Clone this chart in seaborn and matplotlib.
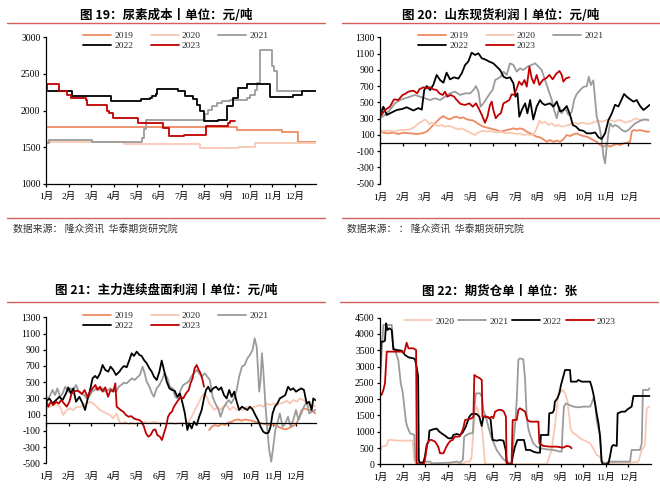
import matplotlib
matplotlib.use("Agg")
import matplotlib.pyplot as plt
import seaborn as sns
from matplotlib.lines import Line2D

# ---------------- data (x = months since 1 Jan, y = value) ----------------
MONTHS = ["1月", "2月", "3月", "4月", "5月", "6月", "7月", "8月", "9月", "10月", "11月", "12月"]
YEARS5 = ["2019", "2020", "2021", "2022", "2023"]
YEARS4 = ["2020", "2021", "2022", "2023"]

TITLES = ["图 19：尿素成本丨单位：元/吨", "图 20：山东现货利润丨单位：元/吨",
          "图 21：主力连续盘面利润丨单位：元/吨", "图 22：期货仓单丨单位：张"]
SOURCES = ["数据来源： 隆众资讯  华泰期货研究院", "数据来源： ： 隆众资讯  华泰期货研究院"]

# Panel 1: urea cost (step series)
P1_2019 = [(0, 1780), (8.42, 1730), (10.42, 1710), (11.12, 1570), (11.93, 1570)]
P1_2020 = [(0, 1565), (3.43, 1540), (6.45, 1548), (6.6, 1540), (6.8, 1490), (8.48, 1500), (9.23, 1550), (11.93, 1550)]
P1_2021 = [(0, 1558), (0.13, 1593), (2.05, 1576), (4.25, 1620), (4.32, 1750), (4.4, 1875), (7.02, 1957),
           (7.17, 2011), (7.32, 2056), (7.54, 2101), (7.76, 2124), (8.13, 2150), (8.86, 2170), (9.01, 2215),
           (9.23, 2283), (9.33, 2380), (9.45, 2827), (9.97, 2610), (10.07, 2540), (10.19, 2260), (11.3, 2260)]
P1_2022 = [(0, 2260), (1.16, 2200), (2.86, 2133), (4.19, 2155), (4.6, 2175), (4.7, 2200), (4.85, 2230),
           (4.92, 2290), (5.85, 2270), (6.14, 2200), (6.5, 2156), (6.68, 2080), (6.79, 1990), (6.98, 1850),
           (7.61, 1875), (7.98, 2056), (8.27, 2170), (8.49, 2306), (8.86, 2365), (9.89, 2184), (10.92, 2215),
           (11.29, 2260), (11.93, 2260)]
P1_2023 = [(0, 2260), (0.03, 2365), (0.57, 2260), (0.94, 2215), (1.09, 2165), (1.75, 2145), (1.83, 2080),
           (2.68, 2000), (2.78, 1965), (2.97, 1900), (4.05, 1830), (5.15, 1760), (5.43, 1648), (6.1, 1668),
           (7.05, 1785), (8.05, 1830), (8.13, 1850), (8.35, 1850)]

# Panel 2: Shandong spot profit
P2_2019 = [(0.00, 160), (0.15, 127), (0.37, 119), (0.59, 127), (0.81, 111), (1.03, 127), (1.33, 119), (1.62, 111),
           (1.85, 119), (2.07, 140), (2.22, 181), (2.36, 222), (2.51, 263), (2.66, 304), (2.81, 332), (2.95, 304),
           (3.10, 291), (3.25, 316), (3.40, 324), (3.55, 304), (3.69, 316), (3.84, 291), (3.99, 283), (4.14, 275),
           (4.28, 250), (4.43, 222), (4.58, 201), (4.73, 189), (4.87, 181), (5.02, 168), (5.17, 160), (5.32, 140),
           (5.47, 148), (5.61, 160), (5.76, 168), (5.91, 181), (6.06, 168), (6.20, 181), (6.35, 168), (6.50, 140),
           (6.65, 119), (6.79, 99), (6.94, 78), (7.09, 70), (7.24, 45), (7.39, 16), (7.53, 37), (7.68, 16),
           (7.83, 29), (7.98, 16), (8.12, 45), (8.27, 99), (8.42, 86), (8.57, 107), (8.71, 119), (8.86, 99),
           (9.01, 86), (9.16, 78), (9.31, 58), (9.45, 37), (9.60, 16), (9.75, -25), (9.90, -45), (10.04, -25),
           (10.19, -45), (10.34, -25), (10.49, -12), (10.64, -25), (10.78, -4), (10.93, 4), (11.08, 16),
           (11.15, 140), (11.23, 160), (11.37, 152), (11.52, 160), (11.67, 148), (11.82, 140), (11.94, 140)]
P2_2020 = [(0.00, 140), (0.22, 152), (0.44, 152), (0.66, 140), (0.89, 160), (1.11, 160), (1.33, 168), (1.55, 201),
           (1.70, 242), (1.85, 263), (1.99, 291), (2.10, 263), (2.19, 234), (2.29, 250), (2.44, 222), (2.58, 209),
           (2.73, 222), (2.88, 201), (3.03, 209), (3.18, 201), (3.32, 181), (3.47, 168), (3.62, 181), (3.77, 160),
           (3.91, 140), (4.06, 119), (4.21, 99), (4.28, 119), (4.43, 140), (4.58, 152), (4.73, 140), (4.87, 148),
           (5.02, 140), (5.17, 127), (5.32, 140), (5.47, 127), (5.61, 119), (5.76, 127), (5.91, 119), (6.06, 111),
           (6.20, 119), (6.35, 99), (6.50, 107), (6.65, 99), (6.79, 99), (6.94, 181), (7.06, 275), (7.16, 242),
           (7.31, 263), (7.46, 222), (7.61, 242), (7.75, 209), (7.90, 222), (8.05, 201), (8.20, 209), (8.35, 222),
           (8.49, 242), (8.64, 250), (8.79, 234), (8.94, 250), (9.08, 242), (9.23, 234), (9.38, 242), (9.53, 263),
           (9.68, 275), (9.82, 263), (9.97, 275), (10.12, 291), (10.27, 275), (10.41, 263), (10.56, 283),
           (10.71, 275), (10.86, 250), (11.00, 263), (11.15, 275), (11.30, 304), (11.45, 291), (11.60, 275),
           (11.74, 291), (11.89, 275)]
P2_2021 = [(0.00, 304), (0.22, 345), (0.44, 406), (0.66, 488), (0.89, 529), (1.11, 550), (1.33, 570), (1.55, 591),
           (1.77, 570), (1.99, 550), (2.22, 529), (2.44, 550), (2.66, 529), (2.88, 570), (3.10, 611), (3.32, 632),
           (3.55, 591), (3.77, 611), (3.99, 611), (4.14, 652), (4.25, 701), (4.36, 632), (4.46, 447), (4.58, 488),
           (4.73, 550), (4.87, 611), (4.99, 652), (5.10, 775), (5.24, 796), (5.35, 816), (5.47, 878), (5.61, 837),
           (5.76, 980), (5.91, 960), (6.06, 878), (6.20, 919), (6.35, 898), (6.53, 939), (6.72, 960), (6.87, 980),
           (7.02, 939), (7.16, 898), (7.31, 775), (7.46, 652), (7.61, 529), (7.71, 406), (7.83, 304), (7.95, 447),
           (8.05, 365), (8.20, 427), (8.35, 345), (8.49, 380), (8.60, 529), (8.71, 600), (8.86, 650), (9.01, 690),
           (9.16, 700), (9.25, 816), (9.34, 714), (9.45, 770), (9.53, 529), (9.60, 324), (9.72, 201), (9.82, 37),
           (9.90, -168), (9.97, -250), (10.04, -45), (10.12, 119), (10.19, 242), (10.31, 201), (10.41, 222),
           (10.56, 201), (10.71, 160), (10.86, 140), (11.00, 160), (11.15, 201), (11.30, 242), (11.45, 263),
           (11.60, 283), (11.74, 291), (11.89, 283)]
P2_2022 = [(0.00, 324), (0.15, 447), (0.30, 345), (0.44, 365), (0.74, 406), (1.00, 420), (1.18, 440), (1.48, 400),
           (1.70, 430), (1.85, 410), (1.96, 652), (2.07, 701), (2.22, 652), (2.36, 714), (2.51, 837), (2.66, 775),
           (2.81, 742), (2.95, 865), (3.10, 783), (3.28, 808), (3.47, 792), (3.62, 857), (3.77, 960), (3.91, 1001),
           (4.06, 1111), (4.21, 1083), (4.36, 1103), (4.51, 1042), (4.65, 1029), (4.84, 1001), (5.02, 980),
           (5.17, 939), (5.32, 898), (5.47, 816), (5.61, 796), (5.76, 808), (5.91, 734), (6.00, 570), (6.09, 611),
           (6.17, 324), (6.28, 406), (6.43, 488), (6.53, 365), (6.65, 529), (6.79, 290), (6.94, 447), (7.09, 529),
           (7.19, 488), (7.31, 468), (7.53, 488), (7.68, 447), (7.83, 509), (7.98, 386), (8.12, 406), (8.27, 455),
           (8.42, 345), (8.54, 222), (8.69, 200), (8.83, 160), (9.01, 150), (9.16, 119), (9.34, 119), (9.53, 130),
           (9.68, 70), (9.82, 50), (9.97, 120), (10.12, 283), (10.27, 365), (10.41, 470), (10.56, 450), (10.71, 540),
           (10.81, 603), (10.93, 570), (11.08, 537), (11.23, 509), (11.37, 529), (11.52, 455), (11.67, 406),
           (11.82, 439), (11.94, 468)]
P2_2023 = [(0.00, 455), (0.07, 345), (0.22, 406), (0.44, 447), (0.62, 537), (0.81, 529), (1.00, 591), (1.11, 603),
           (1.26, 632), (1.48, 644), (1.65, 611), (1.74, 660), (1.92, 685), (2.07, 673), (2.22, 685), (2.36, 660),
           (2.51, 652), (2.63, 611), (2.78, 591), (2.88, 632), (2.98, 570), (3.13, 591), (3.28, 570), (3.40, 529),
           (3.57, 480), (3.77, 468), (3.96, 488), (4.11, 447), (4.25, 488), (4.37, 427), (4.51, 345), (4.65, 250),
           (4.76, 324), (4.87, 468), (4.95, 509), (5.02, 406), (5.13, 304), (5.24, 345), (5.35, 365), (5.47, 488),
           (5.61, 509), (5.73, 529), (5.83, 599), (5.94, 591), (6.06, 673), (6.16, 755), (6.28, 714), (6.40, 775),
           (6.50, 693), (6.62, 939), (6.72, 796), (6.82, 734), (6.94, 837), (7.06, 714), (7.21, 775), (7.36, 796),
           (7.50, 837), (7.65, 783), (7.80, 849), (7.95, 886), (8.05, 837), (8.12, 755), (8.24, 796), (8.39, 808)]

# Panel 3: main continuous futures profit
P3_2019 = [(7.18, -90), (7.29, -49), (7.43, -29), (7.58, -41), (7.73, -16), (7.87, -29), (8.02, 0), (8.17, 12),
           (8.31, 33), (8.46, 41), (8.60, 25), (8.75, 41), (8.90, 33), (9.05, 25), (9.19, 12), (9.34, 0),
           (9.49, -8), (9.63, -16), (9.78, -29), (9.93, -8), (10.07, -29), (10.22, -49), (10.37, -70),
           (10.51, -82), (10.66, -70), (10.81, -49), (10.95, -29), (11.06, 12), (11.14, 74), (11.25, 157),
           (11.35, 177), (11.47, 165), (11.61, 157), (11.76, 136), (11.85, 115)]
P3_2020 = [(0.00, 177), (0.18, 198), (0.32, 218), (0.47, 238), (0.62, 198), (0.76, 95), (0.91, 157), (1.06, 177),
           (1.20, 157), (1.35, 198), (1.50, 190), (1.64, 218), (1.79, 238), (1.94, 259), (2.08, 238), (2.23, 198),
           (2.38, 157), (2.52, 136), (2.67, 115), (2.82, 95), (2.96, 53), (3.11, 115), (3.23, 12), (3.34, -8),
           (3.48, 12), (3.62, -16), (3.77, 0), (3.91, -16), (4.06, 0), (4.21, -8), (4.35, 12), (4.50, -8),
           (4.65, 4), (4.79, 12), (4.94, -8), (5.09, 0), (5.23, -16), (5.38, -8), (5.53, 0), (5.67, -16),
           (5.82, -8), (5.97, 0), (6.11, -8), (6.26, 8), (6.41, 74), (6.55, 157), (6.70, 238), (6.85, 320),
           (6.95, 362), (7.07, 320), (7.18, 238), (7.30, 198), (7.42, 157), (7.54, 198), (7.65, 157), (7.80, 198),
           (7.95, 218), (8.09, 157), (8.24, 198), (8.39, 157), (8.53, 177), (8.68, 157), (8.83, 198), (8.97, 177),
           (9.12, 190), (9.27, 206), (9.41, 218), (9.56, 198), (9.71, 238), (9.85, 218), (10.00, 238), (10.15, 218),
           (10.29, 238), (10.44, 246), (10.59, 271), (10.73, 238), (10.88, 279), (11.03, 259), (11.17, 300),
           (11.32, 279), (11.47, 259), (11.61, 198), (11.76, 218), (11.85, 198)]
P3_2021 = [(0.00, 300), (0.15, 320), (0.29, 404), (0.40, 342), (0.50, 424), (0.62, 320), (0.73, 362), (0.85, 444),
           (0.98, 383), (1.09, 424), (1.20, 404), (1.32, 466), (1.44, 383), (1.55, 362), (1.67, 342), (1.79, 300),
           (1.91, 329), (2.02, 383), (2.14, 404), (2.26, 436), (2.38, 404), (2.49, 424), (2.61, 383), (2.73, 404),
           (2.84, 424), (2.96, 404), (3.08, 383), (3.20, 444), (3.31, 466), (3.43, 494), (3.55, 486), (3.67, 519),
           (3.78, 548), (3.90, 527), (4.02, 560), (4.13, 589), (4.25, 692), (4.34, 610), (4.43, 507), (4.55, 444),
           (4.66, 362), (4.75, 320), (4.87, 424), (4.99, 466), (5.10, 527), (5.22, 610), (5.34, 548), (5.45, 444),
           (5.57, 424), (5.69, 320), (5.81, 300), (5.92, 404), (6.04, 466), (6.16, 486), (6.28, 507), (6.39, 568),
           (6.51, 610), (6.63, 651), (6.74, 610), (6.86, 568), (6.98, 610), (7.10, 568), (7.21, 527), (7.33, 320),
           (7.45, 238), (7.57, 177), (7.68, 74), (7.80, 177), (7.92, 238), (8.04, 279), (8.15, 238), (8.27, 300),
           (8.39, 404), (8.50, 568), (8.62, 692), (8.74, 712), (8.86, 794), (8.97, 835), (9.09, 897), (9.18, 1041),
           (9.27, 938), (9.33, 651), (9.38, 383), (9.44, 527), (9.50, 856), (9.56, 651), (9.65, 238), (9.74, -90),
           (9.82, -336), (9.91, -480), (10.00, -295), (10.09, -90), (10.18, -8), (10.29, 115), (10.41, -49),
           (10.53, -8), (10.65, 74), (10.76, -49), (10.88, 33), (11.00, 157), (11.11, 33), (11.23, 115),
           (11.35, 198), (11.47, 259), (11.58, 115), (11.70, 136), (11.85, 157)]
P3_2022 = [(0.00, 259), (0.15, 300), (0.29, 238), (0.44, 279), (0.59, 320), (0.73, 279), (0.88, 362), (0.98, 436),
           (1.09, 362), (1.20, 424), (1.32, 259), (1.47, 320), (1.61, 238), (1.72, 157), (1.82, 279), (1.94, 404),
           (2.05, 548), (2.16, 577), (2.26, 548), (2.38, 610), (2.49, 712), (2.61, 651), (2.74, 630), (2.84, 692),
           (2.96, 651), (3.08, 589), (3.23, 630), (3.33, 671), (3.43, 700), (3.55, 684), (3.67, 774), (3.77, 856),
           (3.87, 823), (3.99, 877), (4.11, 836), (4.21, 823), (4.31, 774), (4.43, 733), (4.55, 671), (4.65, 630),
           (4.75, 568), (4.87, 527), (4.99, 630), (5.09, 766), (5.19, 651), (5.31, 507), (5.43, 424), (5.54, 404),
           (5.66, 396), (5.78, 320), (5.89, 362), (6.01, 238), (6.11, 115), (6.22, -90), (6.30, -8), (6.41, -70),
           (6.51, 12), (6.63, -29), (6.74, 74), (6.85, 157), (6.95, 300), (7.04, 404), (7.14, 444), (7.24, 383),
           (7.36, 424), (7.48, 444), (7.60, 404), (7.71, 436), (7.83, 342), (7.95, 300), (8.06, 404), (8.17, 320),
           (8.28, 383), (8.39, 259), (8.50, 157), (8.62, 198), (8.74, 177), (8.86, 157), (8.97, 198), (9.09, 165),
           (9.21, 95), (9.33, 33), (9.44, -49), (9.56, -111), (9.68, -131), (9.79, -123), (9.88, -49), (9.97, 115),
           (10.07, 198), (10.18, 238), (10.29, 300), (10.41, 320), (10.53, 342), (10.65, 444), (10.76, 404),
           (10.88, 424), (11.00, 383), (11.11, 404), (11.23, 424), (11.35, 404), (11.47, 238), (11.58, 259),
           (11.69, 157), (11.76, 300), (11.85, 279)]
P3_2023 = [(0.00, 279), (0.10, 198), (0.21, 259), (0.32, 218), (0.44, 259), (0.56, 238), (0.67, 279), (0.79, 238),
           (0.91, 198), (1.03, 259), (1.13, 362), (1.23, 383), (1.35, 396), (1.47, 383), (1.58, 354), (1.70, 404),
           (1.82, 320), (1.94, 383), (2.05, 424), (2.17, 466), (2.26, 404), (2.38, 444), (2.49, 383), (2.61, 436),
           (2.73, 320), (2.84, 404), (2.96, 383), (3.05, 486), (3.11, 198), (3.20, 177), (3.28, 157), (3.40, 136),
           (3.52, 95), (3.64, 74), (3.75, 82), (3.87, 53), (3.99, 41), (4.11, 33), (4.21, 12), (4.31, -49),
           (4.40, -131), (4.50, -172), (4.60, -152), (4.72, -90), (4.81, -82), (4.90, -152), (5.01, -172),
           (5.10, -213), (5.19, -131), (5.28, -49), (5.37, 74), (5.45, 115), (5.54, 136), (5.63, 198), (5.72, 238),
           (5.82, 279), (5.92, 320), (6.04, 300), (6.16, 362), (6.28, 404), (6.36, 486), (6.45, 548), (6.54, 671),
           (6.63, 712), (6.72, 651), (6.80, 610), (6.89, 527), (6.95, 444)]

# Panel 4: futures warehouse receipts
P4_2020 = [(0.00, 389), (0.07, 542), (0.22, 563), (0.30, 593), (0.37, 747), (0.52, 747), (0.74, 726), (1.03, 726),
           (1.33, 726), (1.45, 726), (1.51, 133), (1.60, 31), (1.85, 0), (3.40, 0), (3.69, 31), (3.84, 82),
           (3.99, 82), (4.06, 235), (4.14, 1054), (4.21, 1565), (4.28, 1770), (4.36, 1616), (4.43, 1361),
           (4.51, 1156), (4.58, 645), (4.65, 31), (4.73, 0), (7.39, 0), (7.46, 133), (7.53, 286), (7.61, 440),
           (7.68, 849), (7.75, 1156), (7.83, 1667), (7.90, 2179), (7.98, 2300), (8.05, 2230), (8.12, 2281),
           (8.20, 2179), (8.30, 1974), (8.39, 1463), (8.45, 1054), (8.57, 951), (8.71, 900), (8.86, 798),
           (9.01, 747), (9.16, 696), (9.31, 645), (9.45, 491), (9.60, 286), (9.75, 235), (9.82, 82), (10.04, 31),
           (10.34, 51), (10.64, 51), (11.08, 51), (11.45, 82), (11.60, 440), (11.74, 593), (11.82, 1719),
           (11.94, 1770)]
P4_2021 = [(0.00, 2486), (0.07, 3407), (0.15, 4276), (0.52, 4276), (0.59, 3611), (0.66, 3509), (0.81, 3202),
           (0.92, 2486), (1.00, 2230), (1.06, 1872), (1.15, 1309), (1.21, 1156), (1.33, 951), (1.45, 921),
           (1.52, 900), (1.56, 184), (1.62, 31), (1.85, 51), (1.99, 82), (2.22, 82), (2.29, 31), (3.10, 51),
           (3.40, 82), (3.55, 51), (3.67, 133), (3.73, 849), (3.84, 900), (3.99, 951), (4.11, 951), (4.17, 1667),
           (4.25, 2179), (4.43, 2179), (4.51, 2077), (4.58, 1667), (4.73, 1361), (4.84, 1054), (4.95, 798),
           (5.05, 645), (5.17, 440), (5.32, 286), (5.47, 153), (5.61, 82), (5.83, 31), (5.91, 645), (5.98, 1156),
           (6.06, 1974), (6.13, 3202), (6.20, 3253), (6.35, 3222), (6.43, 2588), (6.50, 1463), (6.57, 1105),
           (6.65, 900), (6.79, 645), (6.94, 542), (7.09, 491), (7.39, 460), (7.68, 440), (7.98, 389), (8.05, 389),
           (8.09, 1054), (8.15, 1770), (8.24, 1872), (8.39, 1821), (8.57, 1770), (8.79, 1749), (9.01, 1770),
           (9.31, 1770), (9.38, 1872), (9.45, 2025), (9.53, 1872), (9.60, 1361), (9.68, 1105), (9.75, 951),
           (9.82, 133), (9.90, 31), (10.19, 82), (10.49, 82), (10.78, 82), (11.08, 82), (11.15, 440), (11.52, 440),
           (11.60, 645), (11.65, 2281), (11.89, 2281), (11.94, 2332)]
P4_2022 = [(0.00, 2588), (0.04, 3765), (0.15, 3765), (0.22, 3795), (0.27, 4327), (0.33, 4123), (0.41, 4174),
           (0.52, 4123), (0.59, 3529), (0.74, 3509), (0.96, 3488), (1.11, 3355), (1.26, 3284), (1.48, 3253),
           (1.55, 3222), (1.62, 2997), (1.69, 2690), (1.72, 133), (1.76, 51), (1.92, 51), (1.99, 235), (2.07, 593),
           (2.15, 696), (2.19, 1033), (2.36, 1074), (2.51, 1095), (2.63, 1003), (2.73, 951), (2.88, 880),
           (3.03, 798), (3.18, 798), (3.25, 900), (3.40, 931), (3.55, 900), (3.66, 972), (3.80, 1156),
           (3.96, 1463), (4.06, 1545), (4.28, 1545), (4.40, 1463), (4.51, 1176), (4.58, 1463), (4.70, 1463),
           (4.80, 1442), (4.90, 1381), (4.99, 747), (5.17, 726), (5.32, 747), (5.47, 726), (5.57, 440), (5.61, 82),
           (5.69, 0), (5.83, 0), (5.88, 235), (5.98, 542), (6.09, 747), (6.38, 747), (6.47, 440), (6.65, 440),
           (6.79, 389), (6.94, 358), (7.09, 358), (7.13, 900), (7.46, 900), (7.50, 1565), (7.65, 1586),
           (7.71, 1667), (7.75, 1923), (7.86, 2025), (7.95, 2179), (8.02, 2435), (8.12, 2690), (8.20, 2895),
           (8.42, 2895), (8.46, 2537), (8.71, 2537), (8.79, 2588), (8.94, 2537), (9.31, 2537), (9.38, 2384),
           (9.45, 2179), (9.53, 1872), (9.60, 1565), (9.68, 1258), (9.75, 849), (9.82, 82), (9.87, 0), (10.01, 0),
           (10.12, 31), (10.19, 235), (10.27, 542), (10.34, 593), (10.49, 563), (10.53, 1565), (10.71, 1616),
           (10.86, 1616), (10.97, 1688), (11.15, 1770), (11.23, 2097), (11.94, 2097)]
P4_2023 = [(0.00, 2179), (0.07, 2128), (0.15, 2281), (0.22, 2486), (0.30, 3458), (0.96, 3458), (1.06, 3427),
           (1.11, 3529), (1.18, 3734), (1.26, 3560), (1.48, 3560), (1.55, 3529), (1.60, 3509), (1.63, 0),
           (1.85, 0), (1.95, 31), (1.99, 133), (2.10, 645), (2.19, 747), (2.29, 747), (2.44, 696), (2.58, 542),
           (2.66, 338), (2.81, 338), (2.93, 522), (3.03, 645), (3.13, 726), (3.22, 747), (3.32, 849), (3.47, 849),
           (3.55, 869), (3.69, 1105), (3.77, 1361), (3.91, 1381), (4.06, 1412), (4.14, 1463), (4.18, 2742),
           (4.28, 2690), (4.43, 2639), (4.51, 2588), (4.54, 1463), (4.73, 1463), (4.84, 1412), (4.95, 1463),
           (5.02, 1412), (5.10, 1616), (5.24, 1667), (5.39, 1667), (5.49, 1616), (5.58, 1463), (5.61, 0),
           (5.83, 0), (5.88, 1361), (6.06, 1361), (6.13, 1667), (6.20, 1719), (6.32, 1667), (6.43, 1616),
           (6.53, 1361), (6.65, 1309), (7.02, 1309), (7.06, 645), (7.24, 563), (7.53, 542), (7.83, 542),
           (8.12, 512), (8.27, 563), (8.42, 542), (8.49, 491)]

COLORS = {"2019": "#EE8A62", "2020": "#F8C8B2", "2021": "#9B9B9B", "2022": "#000000", "2023": "#C00000"}

# ---------------- style ----------------
sns.set_style("ticks")
plt.rcParams["font.family"] = ["Liberation Serif", "Noto Sans CJK SC", "DejaVu Sans"]
plt.rcParams["axes.unicode_minus"] = False

W, H = 660, 493
fig = plt.figure(figsize=(W / 100, H / 100), dpi=100)
LW = 1.3
CJK = ["Noto Sans CJK SC", "DejaVu Sans"]
RED_RULE = "#D4605E"


def add_axes(l, t, r, b):
    return fig.add_axes([l / W, 1 - b / H, (r - l) / W, (b - t) / H])


def draw(ax, series, steps=False):
    for year, pairs in series:
        xs = [p[0] for p in pairs]
        ys = [p[1] for p in pairs]
        kw = {"drawstyle": "steps-post"} if steps else {}
        sns.lineplot(x=xs, y=ys, ax=ax, color=COLORS[year], lw=LW, estimator=None,
                     sort=False, legend=False, **kw)


def style(ax, xmax, yticks, zero_axis=False):
    ax.set_xlim(0, xmax)
    ax.set_ylim(yticks[0], yticks[-1])
    ax.set_yticks(yticks)
    ax.set_yticklabels([str(v) for v in yticks])
    ax.set_xlabel("")
    ax.set_ylabel("")
    ax.spines[["top", "right"]].set_visible(False)
    for s in ("left", "bottom"):
        ax.spines[s].set_linewidth(0.9)
        ax.spines[s].set_color("black")
    ax.tick_params(axis="y", direction="out", length=2.5, width=0.9, pad=1.5,
                   labelsize=7, colors="black")
    ax.tick_params(axis="x", direction="out", length=2.5, width=0.9, pad=3.5,
                   labelsize=6.8, colors="black")
    ax.set_xticks(range(12))
    if zero_axis:
        ax.spines["bottom"].set_position(("data", 0))
        ax.tick_params(axis="x", labelbottom=False)
        sec = ax.secondary_xaxis("bottom")
        sec.set_xticks(range(12))
        sec.set_xticklabels(MONTHS)
        sec.tick_params(axis="x", length=0, pad=6.5, labelsize=6.8, colors="black")
        sec.spines["bottom"].set_visible(False)
    else:
        ax.set_xticklabels(MONTHS)


def legend(ax, years, x_px, top_px, ncol, colspace):
    if ncol == 3:
        order = ["2019", "2022", "2020", "2023", "2021"]
    else:
        order = years
    handles = [Line2D([], [], color=COLORS[y], lw=LW) for y in order]
    ax.legend(handles, order, ncol=ncol, loc="upper left",
              bbox_to_anchor=(x_px / W, 1 - top_px / H), bbox_transform=fig.transFigure,
              frameon=False, borderpad=0, borderaxespad=0, handlelength=2.95,
              handletextpad=0.35, columnspacing=colspace, labelspacing=0.15,
              prop={"family": "Liberation Serif", "size": 6.8})


def rule(x0, x1, y):
    fig.add_artist(Line2D([x0 / W, x1 / W], [1 - y / H, 1 - y / H], transform=fig.transFigure,
                          color=RED_RULE, lw=1.0))


def title(x, y, s):
    fig.text(x / W, 1 - y / H, s, ha="center", va="center", fontsize=9, fontweight="bold",
             family=CJK, color="black")


# Panel 1
ax1 = add_axes(46, 37.3, 316.1, 183.7)
draw(ax1, [("2019", P1_2019), ("2020", P1_2020), ("2021", P1_2021), ("2022", P1_2022), ("2023", P1_2023)],
     steps=True)
style(ax1, 11.93, [1000, 1500, 2000, 2500, 3000])
legend(ax1, YEARS5, 83, 31.5, 3, 1.85)

# Panel 2
ax2 = add_axes(380, 37.3, 650, 183.7)
draw(ax2, [("2019", P2_2019), ("2020", P2_2020), ("2021", P2_2021), ("2022", P2_2022), ("2023", P2_2023)])
style(ax2, 11.96, list(range(-500, 1301, 200)), zero_axis=True)
legend(ax2, YEARS5, 418, 31.5, 3, 1.85)

# Panel 3
ax3 = add_axes(46, 317.3, 316, 463.3)
draw(ax3, [("2019", P3_2019), ("2020", P3_2020), ("2021", P3_2021), ("2022", P3_2022), ("2023", P3_2023)])
style(ax3, 11.88, list(range(-500, 1301, 200)), zero_axis=True)
legend(ax3, YEARS5, 83, 311.2, 3, 1.85)

# Panel 4
ax4 = add_axes(380, 317.7, 650.8, 464.3)
draw(ax4, [("2020", P4_2020), ("2021", P4_2021), ("2022", P4_2022), ("2023", P4_2023)])
style(ax4, 12.0, list(range(0, 4501, 500)))
legend(ax4, YEARS4, 404, 317, 4, 0.4)

# titles, rules, sources
title(166, 15, TITLES[0])
title(501, 15, TITLES[1])
title(166, 291, TITLES[2])
title(500, 291, TITLES[3])
rule(7, 325, 23.3)
rule(342, 660, 23.3)
rule(7, 325, 218.3)
rule(342, 660, 218.3)
rule(7, 325, 302.3)
rule(340, 658, 302.3)
fig.text(13 / W, 1 - 229 / H, SOURCES[0], ha="left", va="center", fontsize=7.1, family=CJK, color="#333333")
fig.text(347 / W, 1 - 229 / H, SOURCES[1], ha="left", va="center", fontsize=7.1, family=CJK, color="#333333")

fig.savefig("out.png", dpi=100)
